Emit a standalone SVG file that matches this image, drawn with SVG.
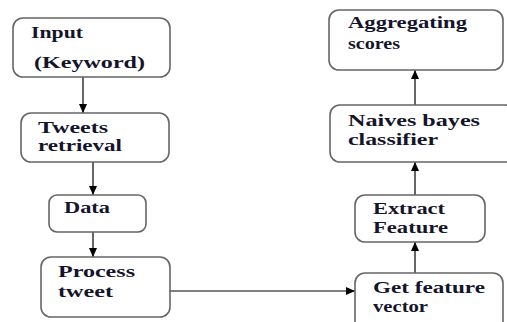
<svg xmlns="http://www.w3.org/2000/svg" width="507" height="322" viewBox="0 0 507 322" font-family="Liberation Serif, Times New Roman, serif">
<defs>
<marker id="ah" markerUnits="userSpaceOnUse" markerWidth="10" markerHeight="8" refX="9" refY="4" orient="auto">
<path d="M0,0 L9,4 L0,8 Z" fill="#000"/>
</marker>
<style>
svg{font-family:'Liberation Serif','Times New Roman',serif}
.box{fill:#fff;stroke:#666;stroke-width:1.6}
.t{font-family:'Liberation Serif','Times New Roman',serif;font-size:17px;font-weight:700;fill:#14142a}
.c{stroke:#000;stroke-width:1.2;fill:none;marker-end:url(#ah)}
</style>
</defs>
<rect width="507" height="322" fill="#fff"/>
<g id="connectors">
<line class="c" x1="83" y1="77" x2="83" y2="113"/>
<line class="c" x1="93" y1="162" x2="93" y2="195"/>
<line class="c" x1="93" y1="232" x2="93" y2="257"/>
<line class="c" x1="170" y1="291" x2="355" y2="291"/>
<line class="c" x1="415" y1="273" x2="415" y2="242"/>
<line class="c" x1="415" y1="195" x2="415" y2="162"/>
<line class="c" x1="415" y1="105" x2="415" y2="70"/>
</g>
<g id="input">
<rect class="box" x="13" y="18" width="157" height="59" rx="10"/>
<text class="t" x="31" y="38" textLength="52" lengthAdjust="spacingAndGlyphs">Input</text>
<text class="t" x="34" y="68" textLength="111" lengthAdjust="spacingAndGlyphs">(Keyword)</text>
</g>
<g id="tweets">
<rect class="box" x="21" y="113" width="148" height="49" rx="10"/>
<text class="t" x="38" y="133" textLength="70" lengthAdjust="spacingAndGlyphs">Tweets</text>
<text class="t" x="38" y="151" textLength="84" lengthAdjust="spacingAndGlyphs">retrieval</text>
</g>
<g id="data">
<rect class="box" x="49" y="195" width="97" height="37" rx="8"/>
<text class="t" x="64" y="213" textLength="46" lengthAdjust="spacingAndGlyphs">Data</text>
</g>
<g id="process">
<rect class="box" x="41" y="257" width="129" height="60" rx="10"/>
<text class="t" x="58" y="277" textLength="77" lengthAdjust="spacingAndGlyphs">Process</text>
<text class="t" x="58" y="297" textLength="55" lengthAdjust="spacingAndGlyphs">tweet</text>
</g>
<g id="aggregating">
<rect class="box" x="329" y="10" width="174" height="60" rx="10"/>
<text class="t" x="348" y="28" textLength="119" lengthAdjust="spacingAndGlyphs">Aggregating</text>
<text class="t" x="348" y="49" textLength="52" lengthAdjust="spacingAndGlyphs">scores</text>
</g>
<g id="naives">
<rect class="box" x="330" y="105" width="185" height="57" rx="10"/>
<text class="t" x="348" y="126" textLength="132" lengthAdjust="spacingAndGlyphs">Naives bayes</text>
<text class="t" x="348" y="145" textLength="90" lengthAdjust="spacingAndGlyphs">classifier</text>
</g>
<g id="extract">
<rect class="box" x="355" y="195" width="130" height="47" rx="10"/>
<text class="t" x="373" y="214" textLength="72" lengthAdjust="spacingAndGlyphs">Extract</text>
<text class="t" x="373" y="233" textLength="75" lengthAdjust="spacingAndGlyphs">Feature</text>
</g>
<g id="getfeature">
<rect class="box" x="355" y="273" width="148" height="62" rx="10"/>
<text class="t" x="373" y="293" textLength="112" lengthAdjust="spacingAndGlyphs">Get feature</text>
<text class="t" x="373" y="312" textLength="55" lengthAdjust="spacingAndGlyphs">vector</text>
</g>
</svg>
